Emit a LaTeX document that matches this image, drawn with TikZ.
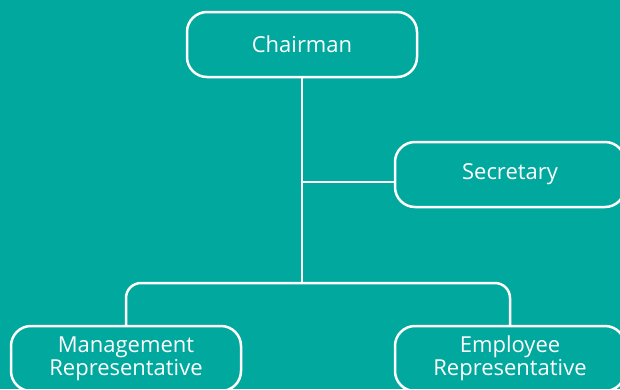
\documentclass[tikz,border=0pt]{standalone}
\usepackage{fontspec}
\setmainfont{Open Sans}
\definecolor{tealbg}{RGB}{0,168,157}
\begin{document}
\begin{tikzpicture}[x=1pt,y=-1pt,
 box/.style={draw=white, line width=2.5pt, rounded corners=20pt, minimum width=230pt, minimum height=65pt, text=white, align=center, font=\fontsize{22}{23}\selectfont, inner sep=0pt},
 link/.style={draw=white, line width=2.5pt}]
\fill[tealbg] (0,0) rectangle (620,389);
\useasboundingbox (0,0) rectangle (620,389);
\node[box] (ch) at (302,44.5) {Chairman};
\node[box] (sec) at (510,174.5) {Secretary};
\node[box] (mg) at (126,358.5) {Management\\Representative};
\node[box] (em) at (510,358.5) {Employee\\Representative};
\coordinate (jt) at (302,283);
\coordinate (js) at (302,182);
\draw[link] (ch.south) -- (jt);
\draw[link] (js) -- (sec.west |- js);
\draw[link, rounded corners=15pt] (mg.north) |- (em.north |- jt) -- (em.north);
\end{tikzpicture}
\end{document}
